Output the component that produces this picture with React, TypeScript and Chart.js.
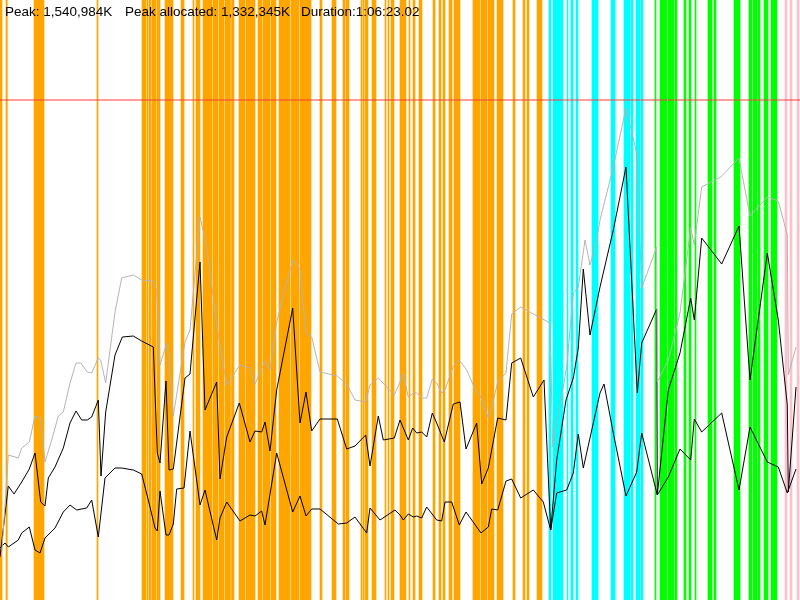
import { useEffect, useRef } from 'react';
import { Chart, registerables } from 'chart.js';

Chart.register(...registerables);

// Header labels
const headerLabels = ['Peak: 1,540,984K', 'Peak allocated: 1,332,345K', 'Duration:1:06:23.02'];
const headerLeft = [5, 125, 301];

// Timeline runs 0..800, memory axis 0..600 (scaled units), peak marker at 500
const TIME_MAX = 800;
const MEM_MAX = 600;
const PEAK_LEVEL = 500;

// GC event bands [start, end] on the timeline
const orangeBands: [number, number][] = [
  [0, 2], [6, 7.3], [34, 44], [97, 98], [142, 146], [147, 148], [149, 151], [152, 156], [157, 160],
  [165, 173], [181, 184], [193, 194], [196, 200], [203, 212], [213, 218], [219, 224], [225, 230.5],
  [231.5, 234], [239, 245], [246, 255], [258, 262], [263, 270], [271, 276], [279, 290], [291, 299],
  [300, 311], [320, 322], [332, 336], [343, 345], [346, 349], [361, 362], [363, 364], [365, 368],
  [372, 376], [385, 386], [388, 389], [391, 394], [400, 406], [409, 410], [413, 415], [419, 422],
  [433, 435], [439, 441], [443, 445], [449, 452], [454, 460], [473, 480], [481, 487], [488, 494],
  [497, 503], [513, 515], [523, 525], [527, 529], [537, 542],
];
const cyanBands: [number, number][] = [
  [549, 551], [553, 563], [567, 568], [571, 573], [576, 578], [592, 598], [611, 615], [624, 630],
  [631, 633], [636, 640], [641, 643],
];
const greenBands: [number, number][] = [
  [655, 656], [660, 667], [668, 674], [675, 677], [684, 686], [689, 691], [695, 696], [708, 712],
  [714, 716], [734, 740], [749, 752], [753, 757], [758, 760], [764, 768], [771, 777],
];
const pinkBands: [number, number][] = [[785, 787], [790, 792], [797, 799]];

// Heap size (grey)
const heapX = [
  2, 8.3, 18.3, 21.7, 29.3, 35, 40.7, 45, 51.7, 58.3, 63.3, 70, 76, 80.7, 87.3, 91.7, 98.3, 100.7,
  105.7, 115, 121.7, 133.3, 141.7, 153.3, 156.7, 160, 166.7, 168.3, 173.3, 185, 190, 200, 206, 220,
  226.7, 240, 250, 255, 265, 270, 276.7, 292.7, 300, 306, 311.7, 320, 337.3, 346.7, 355, 365.7, 370,
  378.3, 394.3, 400, 403.3, 408.3, 413.3, 416.7, 421.7, 426.7, 432.3, 436.7, 441.7, 445, 453.3,
  459.3, 466.7, 476.7, 480, 488.3, 491.7, 497.7, 506, 511.7, 520.7, 531.7, 550, 552.7, 566.7, 573.3,
  578.3, 585, 590, 596.7, 600, 613.3, 626, 636.7, 641.7, 656.7, 657.3, 668.3, 680, 690.7, 694.3,
  701.7, 720.7, 739, 750, 767.3, 778.3, 787.3, 788.3, 796,
];
const heapY = [
  50, 145, 142, 152, 158, 184, 182, 138, 160, 184, 188, 217, 237, 237, 228, 227, 242, 240, 217, 288,
  322, 325, 320, 319, 310, 235, 257, 247, 184, 258, 270, 383, 357, 253, 215, 235, 232, 216, 239, 230,
  278, 340, 331, 267, 263, 228, 224, 216, 200, 198, 215, 222, 205, 218, 226, 203, 207, 207, 202, 202,
  221, 217, 207, 210, 234, 240, 230, 207, 205, 182, 192, 218, 227, 286, 293, 287, 277, 153, 233, 307,
  313, 360, 335, 360, 380, 433, 492, 447, 312, 353, 218, 240, 287, 372, 355, 413, 423, 442, 384, 403,
  399, 365, 225, 253,
];

// Allocated (black, upper)
const allocX = [
  0, 8.3, 14, 21.7, 29.3, 35, 40.7, 45, 48.3, 55, 63.3, 70, 76, 81.7, 87.3, 91.7, 98.3, 101, 105.7,
  115, 122.3, 133.3, 141.7, 153.3, 157.3, 160, 166, 169, 173.3, 185, 190, 200, 205, 216.7, 220, 226.7,
  239.3, 250, 255, 261.7, 265, 270, 276.7, 292.7, 300, 306, 311.7, 320, 337.3, 346.7, 355, 365.7, 370,
  378.3, 383.3, 394.3, 400, 408.3, 412.7, 416.7, 421.7, 426.7, 432.3, 436.7, 444.3, 453.3, 460, 466,
  476.7, 481.7, 488.3, 497.7, 506, 511.7, 520.7, 533.3, 544, 550.7, 556.7, 566, 573.3, 578.3, 583.3,
  590, 600, 613.3, 626, 637.3, 641.7, 656.7, 657.3, 668.3, 680, 690.7, 694.3, 701.7, 721.7, 739, 750,
  767.3, 778.3, 787.3, 788.3, 796,
];
const allocY = [
  43, 114, 106, 118, 131, 147, 98, 94, 122, 133, 152, 177, 189, 180, 180, 183, 200, 124, 188, 245,
  263, 264, 259, 253, 147, 137, 219, 130, 131, 222, 226, 338, 190, 218, 121, 163, 197, 158, 169, 168,
  178, 149, 210, 292, 177, 208, 169, 181, 181, 151, 154, 165, 134, 184, 160, 162, 180, 160, 172, 167,
  168, 163, 187, 177, 158, 196, 198, 151, 177, 116, 132, 182, 180, 237, 242, 203, 220, 70, 140, 200,
  222, 252, 331, 265, 313, 370, 433, 207, 257, 291, 105, 210, 247, 302, 280, 362, 336, 374, 220, 347,
  280, 195, 108, 213,
];

// Live after GC (black, lower)
const liveX = [
  0, 5, 8.3, 18.3, 21.7, 29.3, 35, 40, 45, 55, 63.3, 70, 76.7, 86.7, 91.7, 98.3, 105, 115, 121.7,
  133.3, 141.7, 148.3, 155, 157.3, 160, 166, 169, 173.3, 176.7, 184, 190, 200, 205, 216.7, 220, 226.7,
  240, 250, 255, 261.7, 265, 276.7, 292.7, 300, 306, 311.7, 320, 338.3, 346.7, 355, 366.7, 370, 380,
  395, 400, 403.3, 408.3, 413.3, 416.7, 421.7, 426.7, 436.7, 441.7, 445, 451.7, 459.3, 466, 481, 488.3,
  491.7, 497.7, 506, 511.7, 520.7, 533.3, 543.3, 550.7, 556.7, 566.7, 573.3, 578.3, 583.3, 600, 604,
  613.3, 626, 636.7, 641.7, 657.3, 668.3, 680, 690.7, 694.3, 701.7, 721.7, 739, 750, 767.3, 778.3,
  787.3, 796,
];
const liveY = [
  52, 57, 53, 60, 67, 73, 50, 47, 62, 72, 88, 95, 90, 92, 100, 63, 122, 132, 132, 130, 126, 100, 72,
  69, 109, 65, 65, 76, 111, 112, 169, 95, 110, 60, 82, 98, 79, 85, 84, 89, 75, 147, 88, 104, 84, 91,
  91, 76, 77, 83, 67, 92, 80, 90, 85, 80, 86, 83, 84, 82, 93, 80, 79, 98, 98, 75, 88, 67, 73, 91, 90,
  119, 121, 102, 110, 98, 70, 107, 110, 127, 166, 132, 207, 216, 167, 104, 128, 167, 105, 123, 151,
  140, 181, 168, 187, 110, 173, 138, 133, 107, 131,
];

const toPoints = (xs: number[], ys: number[]) => xs.map((x, i) => ({ x, y: ys[i] }));
const toBands = (bands: [number, number][]) => bands.map(([s, e]) => ({ x: [s, e], y: 'gc' }));

function bandDataset(label: string, bands: [number, number][], color: string) {
  return {
    type: 'bar' as const,
    label,
    indexAxis: 'y' as const,
    xAxisID: 'x',
    yAxisID: 'band',
    data: toBands(bands) as any,
    backgroundColor: color,
    borderWidth: 0,
    grouped: false,
    categoryPercentage: 1,
    barPercentage: 1,
    order: 2,
  };
}

function lineDataset(label: string, xs: number[], ys: number[], color: string) {
  return {
    type: 'line' as const,
    label,
    data: toPoints(xs, ys),
    borderColor: color,
    borderWidth: 1,
    pointRadius: 0,
    fill: false,
    xAxisID: 'x',
    yAxisID: 'y',
    order: 1,
  };
}

export default function App() {
  const canvasRef = useRef<HTMLCanvasElement>(null);
  const chartRef = useRef<Chart | null>(null);

  useEffect(() => {
    if (!canvasRef.current) return;
    chartRef.current?.destroy();

    chartRef.current = new Chart(canvasRef.current, {
      type: 'line',
      data: {
        datasets: [
          {
            type: 'line',
            label: 'Peak',
            data: [{ x: 0, y: PEAK_LEVEL }, { x: TIME_MAX, y: PEAK_LEVEL }],
            borderColor: '#ff3b3b',
            borderWidth: 1,
            pointRadius: 0,
            xAxisID: 'x',
            yAxisID: 'y',
            order: 0,
          },
          lineDataset('Heap size', heapX, heapY, '#b4b4b4'),
          lineDataset('Allocated', allocX, allocY, '#000000'),
          lineDataset('Live', liveX, liveY, '#000000'),
          bandDataset('Young GC', orangeBands, '#ffa500'),
          bandDataset('Concurrent', cyanBands, '#00ffff'),
          bandDataset('Mixed', greenBands, '#00ff00'),
          bandDataset('Full', pinkBands, '#ffc0cb'),
        ] as any,
      },
      options: {
        animation: false,
        responsive: true,
        maintainAspectRatio: false,
        layout: { padding: 0 },
        plugins: {
          legend: { display: false },
          tooltip: { enabled: false },
        },
        scales: {
          x: { type: 'linear', min: 0, max: TIME_MAX, display: false },
          y: { type: 'linear', min: 0, max: MEM_MAX, display: false },
          band: {
            type: 'category',
            labels: ['gc'],
            axis: 'y',
            position: 'left',
            offset: true,
            display: false,
          },
        } as any,
      },
    });

    return () => {
      chartRef.current?.destroy();
      chartRef.current = null;
    };
  }, []);

  return (
    <div style={{ position: 'fixed', left: 0, top: 0, width: 800, height: 600, background: '#fff' }}>
      <canvas ref={canvasRef} />
      {headerLabels.map((text, i) => (
        <span
          key={text}
          style={{
            position: 'absolute',
            left: headerLeft[i],
            top: 4,
            fontFamily: '"Liberation Sans", Arial, sans-serif',
            fontSize: 13.5,
            color: '#000',
            whiteSpace: 'nowrap',
            pointerEvents: 'none',
          }}
        >
          {text}
        </span>
      ))}
    </div>
  );
}
